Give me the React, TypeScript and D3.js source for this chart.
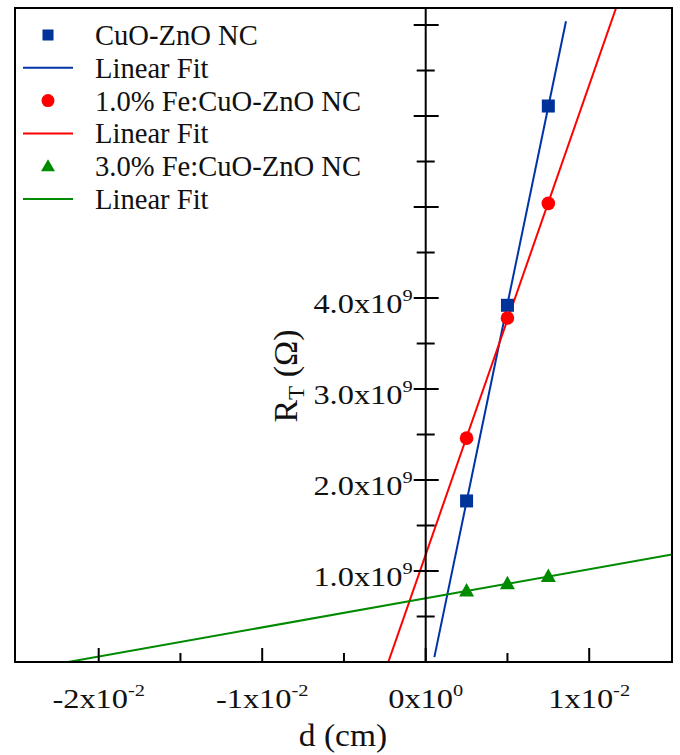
import React from "react";
import * as d3 from "d3";

// ---- data ----
const xCats = [0.0025, 0.005, 0.0075];
const seriesNames = ["CuO-ZnO NC", "1.0% Fe:CuO-ZnO NC", "3.0% Fe:CuO-ZnO NC"];
const cuoZno = [1.77e9, 3.92e9, 6.11e9];
const fe1 = [2.46e9, 3.78e9, 5.04e9];
const fe3 = [0.78e9, 0.86e9, 0.94e9];
const fitRangeBlue = [0.00053, 0.00858];
const xMajorTicks = [-0.02, -0.01, 0, 0.01];
const xMinorTicks = [-0.015, -0.005, 0.005];
const xTickBase = ["-2x10", "-1x10", "0x10", "1x10"];
const xTickExp = ["-2", "-2", "0", "-2"];
const yMajorTicks = [1e9, 2e9, 3e9, 4e9, 5e9, 6e9, 7e9];
const yMinorTicks = [0.5e9, 1.5e9, 2.5e9, 3.5e9, 4.5e9, 5.5e9, 6.5e9];
const yLabelTicks = [1e9, 2e9, 3e9, 4e9];
const yTickBase = ["1.0x10", "2.0x10", "3.0x10", "4.0x10"];
const yTickExp = ["9", "9", "9", "9"];

const W = 680, H = 755;
const L = 15, R = 672, T = 8, B = 662;
const FONT = "Liberation Serif, Times New Roman, DejaVu Serif, serif";
const TS = { fontFamily: FONT };

const x = d3.scaleLinear().domain([-0.025119, 0.015064]).range([L, R]);
const y = d3.scaleLinear().domain([0, 7.187e9]).range([B, T]);

function fit(xs: number[], ys: number[]) {
  const mx = d3.mean(xs)!, my = d3.mean(ys)!;
  let num = 0, den = 0;
  xs.forEach((xi, i) => { num += (xi - mx) * (ys[i] - my); den += (xi - mx) ** 2; });
  const m = num / den;
  return { m, b: my - m * mx };
}

const BLUE = "#003399";
const BLUE_LINE = "#0033a8";
const RED = "#ff0000";
const GREEN = "#008a00";

export default function App() {
  const fb = fit(xCats, cuoZno), fr = fit(xCats, fe1), fg = fit(xCats, fe3);
  const line = d3.line<number[]>().x(d => x(d[0])).y(d => y(d[1]));
  const fullX = x.domain();
  const seg = (f: { m: number; b: number }, r: number[]) => line(r.map(v => [v, f.m * v + f.b]))!;

  const sq = (cx: number, cy: number, k: string) => (
    <rect key={k} x={cx - 6.5} y={cy - 6.5} width={13} height={13} fill={BLUE} />
  );
  const circ = (cx: number, cy: number, k: string) => (
    <circle key={k} cx={cx} cy={cy} r={6.8} fill={RED} />
  );
  const tri = (cx: number, cy: number, k: string) => (
    <path key={k} d={`M${cx},${cy - 8}L${cx + 7.5},${cy + 5.5}L${cx - 7.5},${cy + 5.5}Z`} fill={GREEN} />
  );

  const legendRows = [
    { type: "sq", label: seriesNames[0] },
    { type: "line", color: BLUE_LINE, label: "Linear Fit" },
    { type: "circ", label: seriesNames[1] },
    { type: "line", color: RED, label: "Linear Fit" },
    { type: "tri", label: seriesNames[2] },
    { type: "line", color: GREEN, label: "Linear Fit" },
  ];

  const x0 = x(0);

  return (
    <svg width={W} height={H} style={{ position: "absolute", left: 0, top: 0, background: "#fff" }}>
      <defs>
        <clipPath id="plot"><rect x={L} y={T} width={R - L} height={B - T} /></clipPath>
      </defs>
      <rect x={0} y={0} width={W} height={H} fill="#fff" />
      <g clipPath="url(#plot)" fill="none" strokeWidth={2}>
        <path d={seg(fb, fitRangeBlue)} stroke={BLUE_LINE} />
        <path d={seg(fr, fullX)} stroke={RED} />
        <path d={seg(fg, fullX)} stroke={GREEN} />
      </g>
      <rect x={L} y={T} width={R - L} height={B - T} fill="none" stroke="#000" strokeWidth={2} />
      {xMajorTicks.map(v => <line key={"xm" + v} x1={x(v)} x2={x(v)} y1={B} y2={B - 14} stroke="#000" strokeWidth={2} />)}
      {xMinorTicks.map(v => <line key={"xn" + v} x1={x(v)} x2={x(v)} y1={B} y2={B - 9} stroke="#000" strokeWidth={2} />)}
      <line x1={x0} x2={x0} y1={T} y2={B} stroke="#000" strokeWidth={2} />
      {yMajorTicks.map(v => <line key={"ym" + v} x1={x0 - 12} x2={x0 + 13} y1={y(v)} y2={y(v)} stroke="#000" strokeWidth={2} />)}
      {yMinorTicks.map(v => <line key={"yn" + v} x1={x0 - 9} x2={x0 + 9} y1={y(v)} y2={y(v)} stroke="#000" strokeWidth={2} />)}
      {xMajorTicks.map((v, i) => (
        <g key={"xl" + v} transform={`translate(${x(v)},708) scale(1.2,1)`}>
          <text textAnchor="middle" fontSize={27} fill="#111" style={TS}>
            {xTickBase[i]}
            <tspan fontSize={17} dy={-12}>{xTickExp[i]}</tspan>
          </text>
        </g>
      ))}
      {yLabelTicks.map((v, i) => (
        <g key={"yl" + v} transform={`translate(${x0 - 13},${y(v) + 15}) scale(1.2,1)`}>
          <text textAnchor="end" fontSize={27} fill="#111" style={TS}>
            {yTickBase[i]}
            <tspan fontSize={17} dy={-12}>{yTickExp[i]}</tspan>
          </text>
        </g>
      ))}
      <g transform="translate(343,746) scale(1.08,1)">
        <text textAnchor="middle" fontSize={31} fill="#111" style={TS}>d (cm)</text>
      </g>
      <g transform="translate(297,376) rotate(-90)">
        <text textAnchor="middle" fontSize={34} fill="#111" style={TS}>
          R<tspan fontSize={23} dy={7}>T</tspan><tspan dy={-7}> (Ω)</tspan>
        </text>
      </g>
      {xCats.map((v, i) => sq(x(v), y(cuoZno[i]), "s" + i))}
      {xCats.map((v, i) => circ(x(v), y(fe1[i]), "c" + i))}
      {xCats.map((v, i) => tri(x(v), y(fe3[i]), "t" + i))}
      {legendRows.map((r, i) => {
        const cy = 35 + i * 32.8;
        let sym;
        if (r.type === "sq") sym = <rect x={48 - 5.5} y={cy - 5.5} width={11} height={11} fill={BLUE} />;
        else if (r.type === "circ") sym = <circle cx={48} cy={cy} r={6.5} fill={RED} />;
        else if (r.type === "tri") sym = <path d={`M48,${cy - 7}L55,${cy + 5}L41,${cy + 5}Z`} fill={GREEN} />;
        else sym = <line x1={23} x2={73} y1={cy} y2={cy} stroke={r.color} strokeWidth={2} />;
        return (
          <g key={"lg" + i}>
            {sym}
            <text x={95} y={cy + 10} fontSize={28.6} fill="#111" style={TS}>{r.label}</text>
          </g>
        );
      })}
    </svg>
  );
}
